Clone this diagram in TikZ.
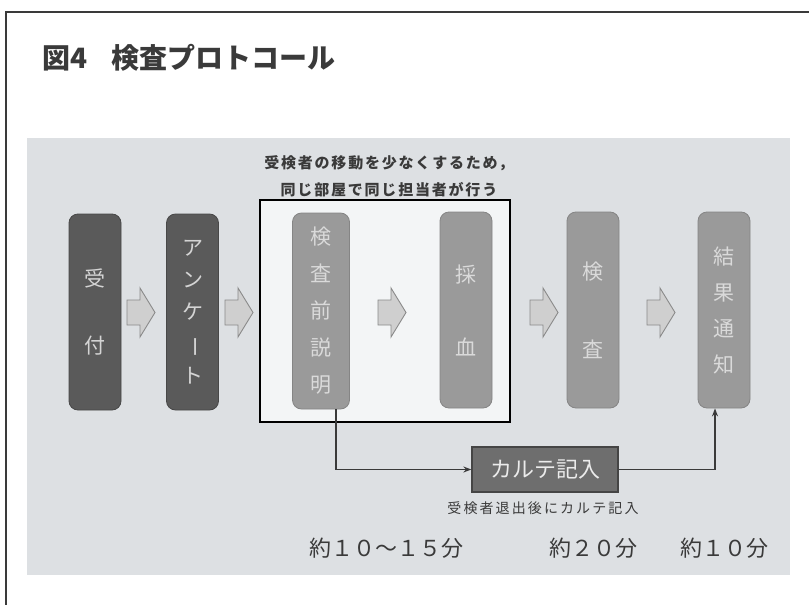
\documentclass[tikz,border=0pt]{standalone}
\usepackage{fontspec}
\usepackage{graphicx}
\setmainfont{Noto Sans CJK JP}
\usetikzlibrary{arrows.meta,calc}
\definecolor{panel}{HTML}{DDE0E3}
\definecolor{roomfill}{HTML}{F3F5F6}
\definecolor{darkbox}{HTML}{5A5A5A}
\definecolor{darktext}{HTML}{D4D4D4}
\definecolor{midbox}{HTML}{9A9A9A}
\definecolor{midedge}{HTML}{858585}
\definecolor{midtext}{HTML}{DADADA}
\definecolor{blockfill}{HTML}{CFCFCF}
\definecolor{blockedge}{HTML}{8A8A8A}
\definecolor{kartefill}{HTML}{6E6E6E}
\definecolor{karteedge}{HTML}{454545}
\definecolor{ink}{HTML}{3A3A3A}
\tikzset{
  stagebox/.style={rounded corners=9pt, minimum width=52pt, minimum height=196pt, inner sep=0pt, align=center},
  darkstage/.style={stagebox, fill=darkbox, draw=darkbox!80!black, line width=0.8pt, text=darktext},
  midstage/.style={stagebox, fill=midbox, draw=midedge, line width=0.8pt, text=midtext},
  vtext/.style={font=\fontsize{21}{#1}\selectfont},
  blockarrow/.style={fill=blockfill, draw=blockedge, line width=0.9pt, line join=miter},
  link/.style={draw=ink, line width=1.5pt, -{Stealth[length=8pt,width=6pt]}},
}
\begin{document}
\begin{tikzpicture}[x=1pt,y=-1pt]
\useasboundingbox (0,0) rectangle (809,605);
% outer frame
\draw[line width=2pt, draw=ink] (809,12) -- (6,12) -- (6,605);
% panel
\fill[panel] (27,138) rectangle (790,575);
% title
\node[anchor=west, font=\fontsize{28}{28}\selectfont\bfseries, text=ink, inner sep=0pt] (title) at (42,58) {図4\hspace{24pt}検査プロトコール};
% room box
\node[draw=black, line width=1.3pt, fill=roomfill, minimum width=250pt, minimum height=222pt, inner sep=0pt] (room) at (385,311) {};
\node[font=\fontsize{15}{27}\selectfont\bfseries\addfontfeature{LetterSpace=12}, text=ink, align=center, inner sep=0pt] (note) at (389,176) {受検者の移動を少なくするため，\\同じ部屋で同じ担当者が行う};
% stages
\node[darkstage, vtext=67] (uketsuke) at (95,312) {受\\付};
\node[darkstage, vtext=32] (anketo) at (192.5,312) {ア\\ン\\ケ\\\rotatebox[origin=c]{-90}{ー}\\ト};
\node[midstage, minimum width=57pt, vtext=37] (setsumei) at (321,311) {検\\査\\前\\説\\明};
\node[midstage, vtext=73] (saiketsu) at (466,310) {採\\血};
\node[midstage, vtext=78] (kensa) at (593,310) {検\\査};
\node[midstage, vtext=36] (kekka) at (724,310) {結\\果\\通\\知};
% block arrows
\foreach \bx in {127,225,378,530,647}{
  \draw[blockarrow] (\bx,300) -- (\bx+13,300) -- (\bx+13,288) -- (\bx+28,312.5) -- (\bx+13,337) -- (\bx+13,325) -- (\bx,325) -- cycle;
}
% karte
\node[fill=kartefill, draw=karteedge, line width=1.3pt, minimum width=146pt, minimum height=45pt, inner sep=0pt, text=white!92!black, font=\fontsize{22}{22}\selectfont] (karte) at (545,469.5) {カルテ記入};
\node[font=\fontsize{14}{14}\selectfont\addfontfeature{LetterSpace=15}, text=ink, inner sep=0pt] (kartenote) at (543,508) {受検者退出後にカルテ記入};
% connectors
\draw[link] ([xshift=15pt]setsumei.south) |- (karte.west);
\draw[link] (karte.east) -| ([xshift=-9pt]kekka.south);
% durations
\node[font=\fontsize{22}{22}\selectfont, text=ink, inner sep=0pt] (t1) at (386,548) {約１０～１５分};
\node[font=\fontsize{22}{22}\selectfont, text=ink, inner sep=0pt] (t2) at (593,548) {約２０分};
\node[font=\fontsize{22}{22}\selectfont, text=ink, inner sep=0pt] (t3) at (724,548) {約１０分};
\end{tikzpicture}
\end{document}
